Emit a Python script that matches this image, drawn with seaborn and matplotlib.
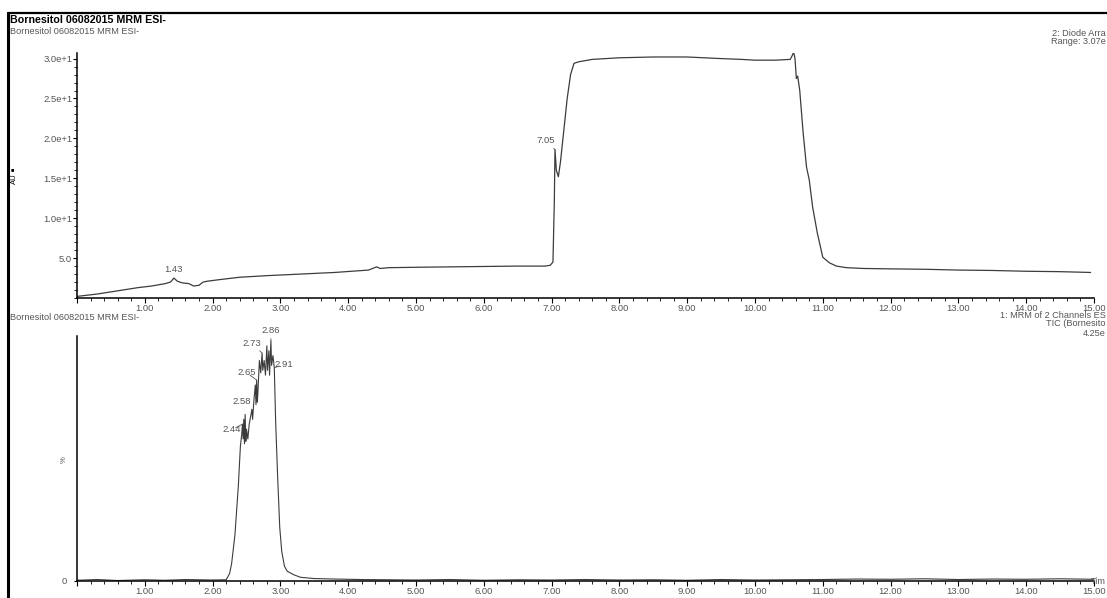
import matplotlib
matplotlib.use("Agg")
import matplotlib.pyplot as plt
from matplotlib.lines import Line2D
from matplotlib.ticker import MultipleLocator, FixedLocator, FuncFormatter
import seaborn as sns

# ---------------- data ----------------
uv_time = [0.0, 0.3, 0.6, 0.9, 1.1, 1.3, 1.38, 1.43, 1.48, 1.55, 1.65, 1.72, 1.80, 1.86,
           1.92, 2.1, 2.4, 2.8, 3.3, 3.8, 4.3, 4.42, 4.47, 4.6, 5.0, 5.5, 6.0, 6.5, 6.9,
           6.98, 7.02, 7.04, 7.05, 7.07, 7.10, 7.13, 7.18, 7.23, 7.28, 7.33, 7.40, 7.6,
           8.0, 8.5, 9.0, 9.5, 9.8, 10.0, 10.3, 10.52, 10.55, 10.57, 10.59, 10.61, 10.63,
           10.66, 10.71, 10.76, 10.80, 10.85, 10.92, 11.0, 11.1, 11.2, 11.35, 11.6, 12.0,
           12.5, 13.0, 13.5, 14.0, 14.5, 14.95]
uv_abs = [0.2, 0.5, 0.9, 1.3, 1.5, 1.8, 2.0, 2.5, 2.1, 1.9, 1.8, 1.5, 1.6, 2.0,
          2.1, 2.3, 2.6, 2.8, 3.0, 3.2, 3.5, 3.9, 3.7, 3.8, 3.85, 3.9, 3.95, 4.0, 4.0,
          4.1, 4.5, 12.0, 18.6, 16.0, 15.2, 17.0, 21.0, 25.0, 28.0, 29.4, 29.6, 29.9,
          30.1, 30.2, 30.2, 30.0, 29.9, 29.8, 29.8, 29.9, 30.4, 30.8, 30.0, 27.5, 27.8,
          26.0, 20.7, 16.4, 14.8, 11.4, 8.1, 5.1, 4.4, 4.0, 3.8, 3.7, 3.65,
          3.6, 3.5, 3.45, 3.35, 3.3, 3.2]

tic_time = [0.0, 0.3, 0.6, 1.0, 1.3, 1.6, 2.0, 2.2, 2.25, 2.28, 2.33, 2.38, 2.41, 2.43,
            2.44, 2.45, 2.46, 2.47, 2.48, 2.49, 2.50, 2.52, 2.54, 2.56, 2.58, 2.59, 2.61,
            2.63, 2.64, 2.65, 2.66, 2.67, 2.69, 2.71, 2.73, 2.74, 2.76, 2.78, 2.80, 2.81,
            2.83, 2.84, 2.86, 2.87, 2.89, 2.91, 2.93, 2.96, 2.99, 3.02, 3.06, 3.10, 3.2,
            3.3, 3.5, 3.8, 4.2, 4.6, 5.0, 5.5, 6.0, 6.5, 7.0, 7.5, 8.0, 8.5, 9.0, 9.5,
            10.0, 10.5, 11.0, 11.5, 12.0, 12.5, 13.0, 13.5, 14.0, 14.5, 15.0]
tic_pct = [0.3, 0.6, 0.2, 0.5, 0.3, 0.6, 0.4, 0.5, 3.0, 7.0, 19.0, 39.0, 55.0, 60.0,
           64.0, 58.0, 66.0, 56.0, 68.0, 57.0, 62.0, 58.0, 64.0, 67.0, 70.0, 66.0, 74.0,
           80.0, 72.0, 82.0, 73.0, 78.0, 90.0, 85.0, 93.0, 86.0, 90.0, 84.0, 96.0, 86.0,
           94.0, 84.0, 98.0, 88.0, 92.0, 87.0, 65.0, 42.0, 22.0, 12.0, 6.0, 4.0, 2.5,
           1.5, 1.0, 0.8, 0.6, 0.5, 0.4, 0.6, 0.3, 0.5, 0.4, 0.6, 0.4, 0.5, 0.3, 0.6,
           0.4, 0.5, 0.6, 0.8, 0.7, 0.9, 0.6, 0.8, 0.7, 0.9, 0.7]

uv_peaks = [1.43, 7.05, 10.57]
tic_peaks = [2.44, 2.58, 2.65, 2.73, 2.86, 2.91]
uv_ticks = [5, 10, 15, 20, 25, 30]
uv_ticklabels = ["5.0", "1.0e+1", "1.5e+1", "2.0e+1", "2.5e+1", "3.0e+1"]
title_main = "Bornesitol 06082015 MRM ESI-"
title_sub = "Bornesitol 06082015 MRM ESI-"
uv_info = ["2: Diode Arra", "Range: 3.07e"]
tic_info = ["1: MRM of 2 Channels ES", "TIC (Bornesito", "4.25e"]
time_label = "Tim"

# ---------------- style ----------------
sns.set_style("white")
plt.rcParams["font.family"] = ["Liberation Sans", "DejaVu Sans"]

W, H = 1107, 598
fig = plt.figure(figsize=(W / 100, H / 100), dpi=100)

def fx(px):
    return px / W

def fy(py):
    return 1 - py / H

left, right = 77, 1094
ax1 = fig.add_axes([fx(left), fy(298), fx(right) - fx(left), fy(53) - fy(298)])
ax2 = fig.add_axes([fx(left), fy(581), fx(right) - fx(left), fy(336) - fy(581)])

line_col = "#3c3c3c"
tick_col = "#555555"

sns.lineplot(x=uv_time, y=uv_abs, ax=ax1, color=line_col, linewidth=0.9,
             estimator=None, sort=False)
sns.lineplot(x=tic_time, y=tic_pct, ax=ax2, color=line_col, linewidth=0.8,
             estimator=None, sort=False)

for ax in (ax1, ax2):
    ax.set_xlim(0, 15)
    for s in ("top", "right"):
        ax.spines[s].set_visible(False)
    for s in ("left", "bottom"):
        ax.spines[s].set_color("black")
        ax.spines[s].set_linewidth(1.1)
    ax.xaxis.set_major_locator(MultipleLocator(1))
    ax.xaxis.set_minor_locator(MultipleLocator(0.2))
    ax.xaxis.set_major_formatter(FuncFormatter(lambda v, p: "" if v == 0 else f"{v:.2f}"))
    ax.tick_params(axis="x", which="major", direction="out", length=3.5, width=0.8,
                   colors="black", labelcolor=tick_col, labelsize=6.8, pad=0.5, bottom=True)
    ax.tick_params(axis="x", which="minor", direction="out", length=2.5, width=0.6,
                   colors="black", bottom=True)
    ax.set_xlabel("")
    ax.set_ylabel("")

ax1.set_ylim(0, 30.7)
ax1.yaxis.set_major_locator(FixedLocator(uv_ticks))
ax1.set_yticklabels(uv_ticklabels)
ax1.yaxis.set_minor_locator(MultipleLocator(1))
ax1.tick_params(axis="y", which="major", direction="out", length=3, width=0.8,
                colors="black", labelcolor=tick_col, labelsize=6.8, pad=0.5, left=True)
ax1.tick_params(axis="y", which="minor", direction="out", length=2, width=0.6,
                colors="black", left=True)

ax2.set_ylim(0, 100)
ax2.yaxis.set_major_locator(FixedLocator([0]))
ax2.set_yticklabels(["0"])
ax2.tick_params(axis="y", which="major", direction="out", length=2, width=0.8,
                colors="black", labelcolor=tick_col, labelsize=6.8, pad=5, left=True)

# peak labels
ann = dict(fontsize=6.8, color=tick_col, ha="center", va="center")
arrow = dict(arrowstyle="-", color=tick_col, lw=0.6, shrinkA=3, shrinkB=0)

def yval(ts, vs, t):
    i = min(range(len(ts)), key=lambda k: abs(ts[k] - t))
    return vs[i]

ax1.annotate(f"{uv_peaks[0]:.2f}", xy=(uv_peaks[0], yval(uv_time, uv_abs, uv_peaks[0])),
             xytext=(0, 6), textcoords="offset points", **ann)
ax1.annotate(f"{uv_peaks[1]:.2f}", xy=(uv_peaks[1], yval(uv_time, uv_abs, uv_peaks[1])),
             xytext=(-7, 6.5), textcoords="offset points", arrowprops=arrow, **ann)
ax1.annotate(f"{uv_peaks[2]:.2f}", xy=(uv_peaks[2], yval(uv_time, uv_abs, uv_peaks[2])),
             xytext=(0, 6), textcoords="offset points", **ann)

tic_offsets = [(-7.7, -3.9), (-7.4, 5.8), (-7.2, 5.3), (-7.3, 7.3), (0, 7.2), (6.5, 2.4)]
for t, off in zip(tic_peaks, tic_offsets):
    ax2.annotate(f"{t:.2f}", xy=(t, yval(tic_time, tic_pct, t)), xytext=off,
                 textcoords="offset points", arrowprops=arrow, **ann)

# header / side texts
fig.text(fx(10), fy(20), title_main, fontsize=7.7, fontweight="bold", color="black",
         ha="left", va="center")
fig.text(fx(10), fy(32), title_sub, fontsize=6.6, color=tick_col, ha="left", va="center")
fig.text(fx(10), fy(318), title_sub, fontsize=6.6, color=tick_col, ha="left", va="center")
fig.text(fx(1106), fy(33), uv_info[0], fontsize=6.6, color=tick_col, ha="right", va="center")
fig.text(fx(1106), fy(42), uv_info[1], fontsize=6.6, color=tick_col, ha="right", va="center")
fig.text(fx(1106), fy(315), tic_info[0], fontsize=6.6, color=tick_col, ha="right", va="center")
fig.text(fx(1106), fy(324), tic_info[1], fontsize=6.6, color=tick_col, ha="right", va="center")
fig.text(fx(1106), fy(333), tic_info[2], fontsize=6.6, color=tick_col, ha="right", va="center")
fig.text(fx(1106), fy(582), time_label, fontsize=6.6, color=tick_col, ha="right", va="center")
fig.text(fx(14), fy(179), "AU", fontsize=5.5, color="black", rotation=90, ha="center", va="center")
fig.text(fx(12), fy(170), "\u25a0", fontsize=4, color="black", ha="center", va="center")
fig.text(fx(64), fy(460), "%", fontsize=5.5, color=tick_col, rotation=90, ha="center", va="center")

# frame lines
fig.add_artist(Line2D([fx(8), 1.0], [fy(13), fy(13)], color="black", linewidth=1.6))
fig.add_artist(Line2D([fx(8), fx(8)], [fy(13), 0.0], color="black", linewidth=2.2))

fig.savefig("out.png", dpi=100)
